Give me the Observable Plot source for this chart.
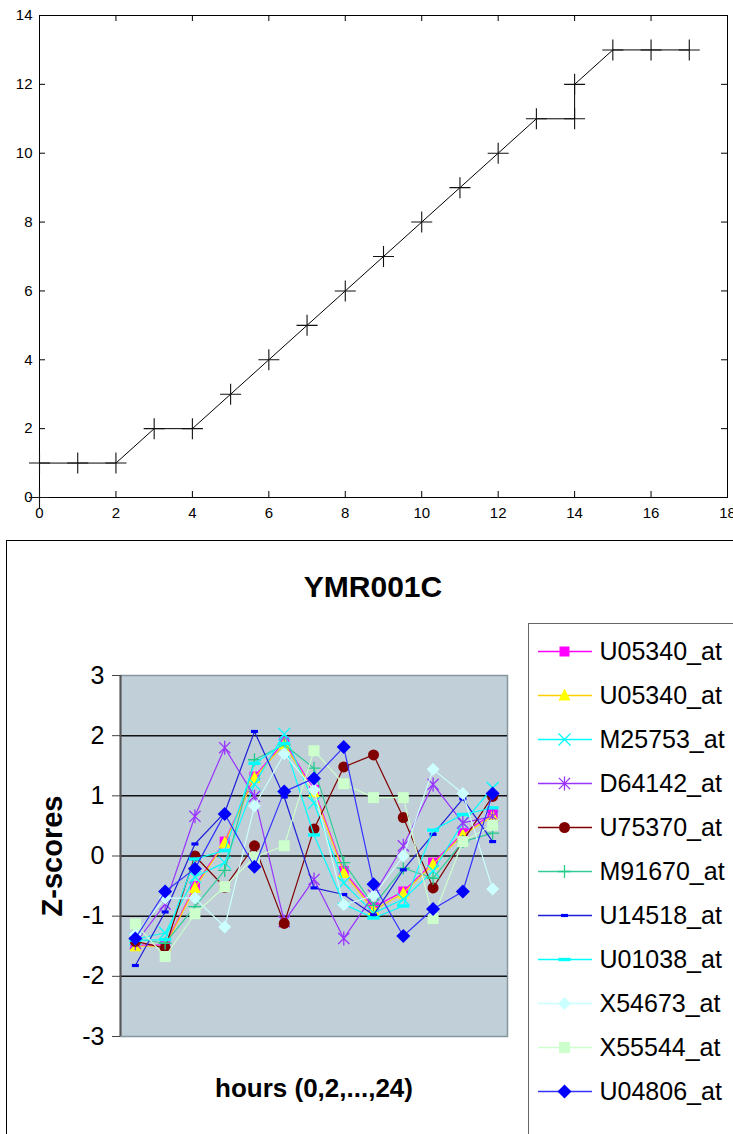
<!DOCTYPE html>
<html><head><meta charset="utf-8">
<script src="https://cdn.jsdelivr.net/npm/d3@7"></script>
<script src="https://cdn.jsdelivr.net/npm/@observablehq/plot@0.6"></script>
<style>
html,body{margin:0;padding:0;background:#fff;width:733px;height:1134px;overflow:hidden;position:relative;font-family:"Liberation Sans",Arial,sans-serif;}
#top{position:absolute;left:0;top:0;}
#outer{position:absolute;left:6px;top:540px;width:800px;height:700px;border:1px solid #000;}
#bottom{position:absolute;left:0;top:540px;}
#title{position:absolute;left:6px;width:734px;top:569px;text-align:center;font-weight:bold;font-size:30px;line-height:36px;color:#000;}
#legend{position:absolute;left:528px;top:623px;width:300px;height:600px;border:1px solid #666;background:#fff;}
#legend svg{position:absolute;left:0;top:0;}
</style></head>
<body>
<div id="top"></div>
<div id="outer"></div>
<div id="bottom"></div>
<div id="title">YMR001C</div>
<div id="legend"></div>
<script>
// ---------- top chart data ----------
const topX = [0, 0, 1, 2, 3, 4, 5, 6, 7, 8, 9, 10, 11, 12, 13, 14, 14, 15, 16, 17];
const topY = [0, 1, 1, 1, 2, 2, 3, 4, 5, 6, 7, 8, 9, 10, 11, 11, 12, 13, 13, 13];
const topXTicks = [0, 2, 4, 6, 8, 10, 12, 14, 16, 18];
const topYTicks = [0, 2, 4, 6, 8, 10, 12, 14];

// ---------- bottom chart data ----------
const chartTitle = "YMR001C";
const xLabel = "hours (0,2,...,24)";
const yLabel = "Z-scores";
const hours = [0, 2, 4, 6, 8, 10, 12, 14, 16, 18, 20, 22, 24];
const zTicks = [-3, -2, -1, 0, 1, 2, 3];
const gridLines = [-2, -1, 0, 1, 2];
const seriesNames = ["U05340_at", "U05340_at", "M25753_at", "D64142_at", "U75370_at", "M91670_at",
  "U14518_at", "U01038_at", "X54673_at", "X55544_at", "U04806_at"];
const U05340a = [-1.48, -1.48, -0.50, 0.24, 1.32, 1.90, 1.10, -0.25, -0.85, -0.59, -0.11, 0.38, 0.70];
const U05340b = [-1.50, -1.50, -0.53, 0.22, 1.30, 1.86, 1.06, -0.28, -0.90, -0.62, -0.14, 0.35, 0.66];
const M25753 = [-1.38, -1.28, -0.35, -0.11, 1.19, 2.03, 0.88, -0.45, -0.95, -0.72, -0.25, 0.55, 1.13];
const D64142 = [-1.45, -0.80, 0.66, 1.80, 0.99, -1.09, -0.39, -1.37, -0.65, 0.17, 1.19, 0.55, 0.66];
const U75370 = [-1.42, -1.53, 0.00, -0.52, 0.17, -1.12, 0.45, 1.48, 1.68, 0.64, -0.53, 0.25, 0.99];
const M91670 = [-1.38, -1.45, -0.84, -0.24, 1.60, 1.85, 1.46, -0.11, -0.82, -0.20, -0.37, 0.24, 0.38];
const U14518 = [-1.82, -0.93, 0.20, 0.72, 2.07, 0.98, -0.53, -0.64, -0.98, -0.23, 0.36, 0.95, 0.24];
const U01038 = [-1.40, -1.39, -0.05, 0.09, 1.54, 1.87, 0.35, -0.80, -1.03, -0.83, 0.43, 0.69, 0.80];
const X54673 = [-1.30, -0.70, -0.70, -1.18, 0.83, 1.70, 1.10, -0.81, -0.66, 0.00, 1.44, 1.04, -0.55];
const X55544 = [-1.13, -1.67, -0.96, -0.51, -0.02, 0.17, 1.75, 1.20, 0.97, 0.97, -1.04, 0.24, 0.51];
const U04806 = [-1.37, -0.59, -0.21, 0.70, -0.18, 1.07, 1.29, 1.81, -0.47, -1.33, -0.88, -0.59, 1.04];
const seriesValues = [U05340a, U05340b, M25753, D64142, U75370, M91670, U14518, U01038, X54673, X55544, U04806];
const lineColors = ["#FF00FF", "#FFD000", "#00FFFF", "#9933FF", "#800000", "#33CC99", "#1f1fd8", "#00FFFF", "#CCFFFF", "#CCFFCC", "#3333FF"];
const markColors = ["#FF00FF", "#FFFF00", "#00FFFF", "#9933FF", "#800000", "#22CC88", "#0000FF", "#00FFFF", "#CCFFFF", "#CCFFCC", "#0000FF"];

// ---------- symbols ----------
const R = s => Math.sqrt(s / Math.PI);
const sym = {
  square: {draw(c, s) { const r = R(s); c.rect(-r, -r, 2 * r, 2 * r); }},
  triangle: {draw(c, s) { const r = R(s); c.moveTo(0, -1.15 * r); c.lineTo(r, 0.85 * r); c.lineTo(-r, 0.85 * r); c.closePath(); }},
  cross: {draw(c, s) { const r = R(s); c.moveTo(-r, -r); c.lineTo(r, r); c.moveTo(-r, r); c.lineTo(r, -r); }},
  asterisk: {draw(c, s) { const r = R(s); const a = r * 0.8; c.moveTo(-a, -a); c.lineTo(a, a); c.moveTo(-a, a); c.lineTo(a, -a); c.moveTo(0, -r); c.lineTo(0, r); }},
  circle: {draw(c, s) { const r = R(s); c.moveTo(r, 0); c.arc(0, 0, r, 0, 2 * Math.PI); }},
  plus: {draw(c, s) { const r = R(s); c.moveTo(-r, 0); c.lineTo(r, 0); c.moveTo(0, -r); c.lineTo(0, r); }},
  dash: {draw(c, s) { const r = R(s); c.rect(-r, -0.45 * r, 2 * r, 0.9 * r); }},
  wideDash: {draw(c, s) { const r = R(s); c.rect(-r, -0.28 * r, 2 * r, 0.56 * r); }},
  diamond: {draw(c, s) { const r = R(s); c.moveTo(0, -r); c.lineTo(r, 0); c.lineTo(0, r); c.lineTo(-r, 0); c.closePath(); }}
};
const seriesSymbols = [sym.square, sym.triangle, sym.cross, sym.asterisk, sym.circle, sym.plus, sym.dash, sym.wideDash, sym.diamond, sym.square, sym.diamond];
const seriesR = [5, 6, 6, 7, 5.5, 6.5, 3.5, 6, 6.5, 5.5, 7];
const seriesFilled = [true, true, false, false, true, false, true, true, true, true, true];

function markerOpts(k) {
  return seriesFilled[k]
    ? {symbol: seriesSymbols[k], r: seriesR[k], fill: markColors[k], stroke: "none"}
    : {symbol: seriesSymbols[k], r: seriesR[k], fill: "none", stroke: markColors[k], strokeWidth: 1.3};
}
const hyphenFormat = d => (d < 0 ? "-" + Math.abs(d) : String(d));

const FONT = '"Liberation Sans", Arial, sans-serif';

// ---------- top chart ----------
const topData = topX.map((x, i) => ({x, y: topY[i]}));
const topW = 733, topH = 530, tmT = 15, tmR = 6, tmB = 33, tmL = 39;
const innerW = topW - tmL - tmR, innerH = topH - tmT - tmB;
const topChart = Plot.plot({
  width: topW, height: topH,
  marginTop: tmT, marginRight: tmR, marginBottom: tmB, marginLeft: tmL,
  x: {domain: [0, 18]},
  y: {domain: [0, 14]},
  style: {fontFamily: FONT, fontSize: "15px", background: "transparent", color: "#000", overflow: "visible"},
  marks: [
    Plot.frame({stroke: "#000", strokeWidth: 1}),
    Plot.tickX(topXTicks, {x: d => d, insetTop: innerH - 6, stroke: "#000"}),
    Plot.tickX(topXTicks, {x: d => d, insetBottom: innerH - 6, stroke: "#000"}),
    Plot.tickY(topYTicks, {y: d => d, insetRight: innerW - 6, stroke: "#000"}),
    Plot.tickY(topYTicks, {y: d => d, insetLeft: innerW - 6, stroke: "#000"}),
    Plot.axisX(topXTicks, {tickSize: 0, tickPadding: 10, label: null}),
    Plot.axisY(topYTicks, {tickSize: 0, tickPadding: 7, label: null}),
    Plot.line(topData, {x: "x", y: "y", stroke: "#000", strokeWidth: 1}),
    Plot.dot(topData, {x: "x", y: "y", symbol: sym.plus, r: 10.5, fill: "none", stroke: "#111", strokeWidth: 1.1})
  ]
});
document.getElementById("top").appendChild(topChart);

// ---------- bottom chart ----------
const seriesMarks = [];
seriesValues.forEach((vals, k) => {
  const data = hours.map((h, j) => ({h, v: vals[j]}));
  seriesMarks.push(Plot.line(data, {x: "h", y: "v", stroke: lineColors[k], strokeWidth: 1.2}));
  seriesMarks.push(Plot.dot(data, {x: "h", y: "v", ...markerOpts(k)}));
});

const bottomChart = Plot.plot({
  width: 733, height: 594,
  marginTop: 135, marginBottom: 98, marginLeft: 120, marginRight: 226,
  x: {domain: [-1, 25], axis: null},
  y: {domain: [-3, 3], axis: null},
  style: {fontFamily: FONT, fontSize: "25px", background: "transparent", color: "#000", overflow: "visible"},
  marks: [
    Plot.frame({fill: "#C0CFD8", stroke: "#8797a0", strokeWidth: 1.5}),
    Plot.ruleY(gridLines, {stroke: "#111", strokeWidth: 1.5}),
    Plot.ruleX([-1], {stroke: "#555", strokeWidth: 2}),
    Plot.axisY(zTicks, {tickSize: 8, tickPadding: 8, stroke: "#444", label: null, fill: "#000", tickFormat: hyphenFormat}),
    Plot.text([yLabel], {text: d => d, frameAnchor: "left", rotate: -90, dx: -68, textAnchor: "middle", lineAnchor: "middle", fontSize: 29, fontWeight: "bold", fill: "#000"}),
    Plot.text([xLabel], {text: d => d, frameAnchor: "bottom", dy: 52, textAnchor: "middle", lineAnchor: "middle", fontSize: 26, fontWeight: "bold", fill: "#000"}),
    ...seriesMarks
  ]
});
document.getElementById("bottom").appendChild(bottomChart);

// ---------- legend ----------
const rows = seriesNames.map((name, i) => ({i, name}));
const legendMarks = [];
rows.forEach((row, k) => {
  legendMarks.push(Plot.ruleY([row], {y: "i", stroke: lineColors[k], strokeWidth: 1.3, insetLeft: 9, insetRight: 204 - 63}));
  legendMarks.push(Plot.dot([row], {y: "i", frameAnchor: "left", dx: 35, ...markerOpts(k)}));
});
const legendChart = Plot.plot({
  width: 204, height: 510,
  margin: 0,
  x: {domain: [0, 1], axis: null},
  y: {type: "point", domain: d3.range(seriesNames.length), range: [23.7, 470.3], padding: 0, axis: null},
  style: {fontFamily: FONT, background: "transparent", color: "#000", overflow: "visible"},
  marks: [
    ...legendMarks,
    Plot.text(rows, {y: "i", text: "name", frameAnchor: "left", dx: 70, textAnchor: "start", lineAnchor: "middle", fontSize: 25, fill: "#000"})
  ]
});
document.getElementById("legend").appendChild(legendChart);
document.getElementById("title").textContent = chartTitle;
</script>
</body></html>
